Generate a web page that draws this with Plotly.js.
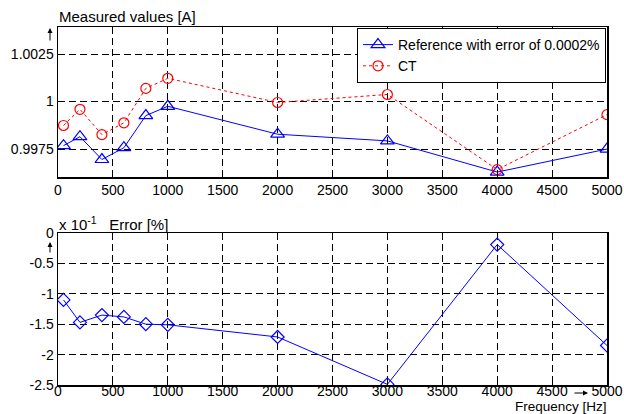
<!DOCTYPE html>
<html><head><meta charset="utf-8">
<script src="https://cdn.plot.ly/plotly-3.0.1.min.js"></script>
<style>html,body{margin:0;padding:0;background:#fff}#chart{width:624px;height:414px}</style>
</head><body><div id="chart"></div>
<script>
// ---- data ----
const frequency = [50, 200, 400, 600, 800, 1000, 2000, 3000, 4000, 5000];
const referenceValues = [0.99768, 0.99815, 0.99695, 0.99757, 0.99926, 0.99975, 0.99828, 0.99793, 0.99629, 0.99750];
const ctValues = [0.99874, 0.99959, 0.99826, 0.99888, 1.00069, 1.00122, 0.99995, 1.00037, 0.99642, 0.99931];
const errorValues = [-1.10, -1.47, -1.35, -1.38, -1.50, -1.51, -1.71, -2.49, -0.19, -1.85]; // x 10^-1 %
const xTickVals = [0, 500, 1000, 1500, 2000, 2500, 3000, 3500, 4000, 4500, 5000];
const xTickText = ['0', '500', '1000', '1500', '2000', '2500', '3000', '3500', '4000', '4500', '5000'];
const yTopTickVals = [0.9975, 1, 1.0025];
const yTopTickText = ['0.9975', '1', '1.0025'];
const yBotTickVals = [-2.5, -2, -1.5, -1, -0.5, 0];
const yBotTickText = ['-2.5', '-2', '-1.5', '-1', '-0.5', '0'];
const seriesNames = ['Reference with error of 0.0002%', 'CT'];

// ---- styling ----
const W = 624, H = 414;
const px = v => v / W, py = v => 1 - v / H;
const FONT = 'Liberation Sans, Arial, Helvetica, sans-serif';
const gridDash = '7px,4px';

const traces = [
  {x: frequency, y: referenceValues, name: seriesNames[0], type: 'scatter', mode: 'lines+markers',
   line: {color: '#0000ff', width: 1},
   marker: {symbol: 'triangle-up-open', size: 12, color: '#0000ff', line: {width: 1.2}},
   xaxis: 'x', yaxis: 'y'},
  {x: frequency, y: ctValues, name: seriesNames[1], type: 'scatter', mode: 'lines+markers',
   line: {color: '#ff0000', width: 1, dash: 'dot'},
   marker: {symbol: 'circle-open', size: 10, color: '#ff0000', line: {width: 1.2}},
   xaxis: 'x', yaxis: 'y'},
  {x: frequency, y: errorValues, name: 'Error', type: 'scatter', mode: 'lines+markers', showlegend: false,
   line: {color: '#0000ff', width: 1},
   marker: {symbol: 'diamond-open', size: 10, color: '#0000ff', line: {width: 1.2}},
   xaxis: 'x2', yaxis: 'y2'}
];

const axisCommon = {
  showline: true, mirror: true, linecolor: '#000', linewidth: 1.5,
  showgrid: true, gridcolor: '#000', gridwidth: 1, griddash: gridDash,
  ticks: 'inside', ticklen: 4, tickcolor: '#000', tickwidth: 1,
  zeroline: false, tickfont: {family: FONT, size: 14, color: '#000'}, tickmode: 'array'
};

const layout = {
  width: W, height: H,
  margin: {l: 0, r: 0, t: 0, b: 0},
  paper_bgcolor: '#fff', plot_bgcolor: '#fff',
  font: {family: FONT, size: 14, color: '#000'},
  showlegend: true,
  legend: {x: px(606), xanchor: 'right', y: py(28), yanchor: 'top',
    bgcolor: '#fff', bordercolor: '#000', borderwidth: 1,
    font: {family: FONT, size: 14, color: '#000'}, itemwidth: 30,
    tracegroupgap: 0},
  xaxis: Object.assign({}, axisCommon, {domain: [px(58), px(607)], range: [0, 5000],
    tickvals: xTickVals, ticktext: xTickText, anchor: 'y'}),
  yaxis: Object.assign({}, axisCommon, {domain: [py(177), py(27)], range: [0.99603, 1.00392],
    tickvals: yTopTickVals, ticktext: yTopTickText, anchor: 'x'}),
  xaxis2: Object.assign({}, axisCommon, {domain: [px(58), px(607)], range: [0, 5000],
    tickvals: xTickVals, ticktext: xTickText, anchor: 'y2', ticklabelstandoff: -7}),
  yaxis2: Object.assign({}, axisCommon, {domain: [py(385), py(233)], range: [-2.5, 0],
    tickvals: yBotTickVals, ticktext: yBotTickText, anchor: 'x2'}),
  annotations: [
    {xref: 'paper', yref: 'paper', x: px(57), y: py(17), xanchor: 'left', yanchor: 'middle',
     text: 'Measured values [A]', showarrow: false, font: {family: FONT, size: 15}},
    {xref: 'paper', yref: 'paper', x: px(50), y: py(28), ax: 0, ay: 14, text: '', showarrow: true,
     arrowhead: 2, arrowsize: 1, arrowwidth: 1, arrowcolor: '#000'},
    {xref: 'paper', yref: 'paper', x: px(57), y: py(224), xanchor: 'left', yanchor: 'middle',
     text: 'x 10<sup>-1</sup>   Error [%]', showarrow: false, font: {family: FONT, size: 15}},
    {xref: 'paper', yref: 'paper', x: px(50), y: py(242), ax: 0, ay: 12, text: '', showarrow: true,
     arrowhead: 2, arrowsize: 1, arrowwidth: 1, arrowcolor: '#000'},
    {xref: 'paper', yref: 'paper', x: px(588), y: py(393), ax: -15, ay: 0, text: '', showarrow: true,
     arrowhead: 2, arrowsize: 1, arrowwidth: 1, arrowcolor: '#000'},
    {xref: 'paper', yref: 'paper', x: px(609), y: py(416), xanchor: 'right', yanchor: 'bottom',
     text: 'Frequency [Hz]', showarrow: false, font: {family: FONT, size: 13.5}}
  ]
};

Plotly.newPlot('chart', traces, layout, {displayModeBar: false, staticPlot: true});
</script>
</body></html>
